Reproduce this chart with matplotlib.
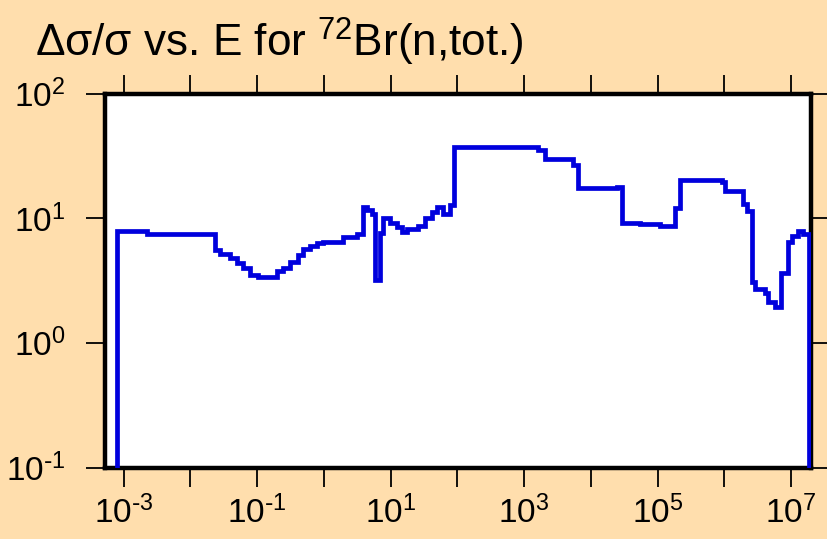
import numpy as np
import matplotlib
matplotlib.use("Agg")
import matplotlib.pyplot as plt

# Bin edges (energy, eV) and relative uncertainty values (%)
energy_edges = [8.0e-4, 2.21e-3, 0.0231, 0.0275, 0.0388, 0.0494, 0.0608, 0.0774,
                0.102, 0.197, 0.242, 0.308, 0.407, 0.483, 0.615, 0.783, 0.964,
                1.92, 3.11, 3.83, 4.40, 5.22, 5.79, 6.89, 7.64, 9.73, 12.4, 14.7,
                17.5, 25.6, 32.6, 41.5, 49.3, 60.7, 77.3, 88.0, 1610, 2050, 5400,
                6410, 24600, 29200, 5.45e4, 1.09e5, 1.82e5, 2.17e5, 9.24e5,
                1.02e6, 1.91e6, 2.19e6, 2.60e6, 2.88e6, 4.07e6, 4.52e6, 5.75e6,
                7.08e6, 9.02e6, 1.035e7, 1.27e7, 1.51e7, 1.86e7]
rel_unc = [7.82, 7.40, 5.51, 5.12, 4.75, 4.33, 3.95, 3.47, 3.35, 3.74, 4.02,
           4.41, 5.02, 5.71, 5.93, 6.27, 6.38, 7.00, 7.40, 12.4, 11.7, 10.9,
           3.22, 7.54, 9.95, 9.07, 8.42, 7.68, 8.12, 8.58, 9.95, 11.3, 12.2,
           10.9, 12.8, 36.9, 34.9, 30.1, 26.5, 17.3, 17.9, 9.1, 8.9, 8.7,
           11.96, 20.1, 19.5, 16.5, 13.1, 11.5, 3.05, 2.68, 2.49, 2.11, 1.93,
           3.6, 6.38, 7.25, 7.82, 7.40]

x_tick_exps = list(range(-3, 8))
x_label_exps = [-3, -1, 1, 3, 5, 7]
y_tick_exps = [-1, 0, 1, 2]
title_text = "Δσ/σ vs. E for $\\mathregular{^{72}}$Br(n,tot.)"

plt.rcParams['font.family'] = ['Liberation Sans', 'DejaVu Sans']


def pow_label(e):
    s = str(e).replace('-', '\\text{-}')
    return "$\\mathregular{10^{%s}}$" % s


bg = '#FFDEAD'
W, H = 827, 539
fig = plt.figure(figsize=(W / 100, H / 100), dpi=100, facecolor=bg)
L, R, T, B = 104.5, 810.5, 93.5, 467.5
ax = fig.add_axes([L / W, 1 - B / H, (R - L) / W, (B - T) / H])
ax.set_facecolor('white')

ax.stairs(rel_unc, energy_edges, baseline=1e-3, color='#0000DD',
          linewidth=3.4, zorder=3)

ax.set_xscale('log')
ax.set_yscale('log')
ax.set_xlim(10 ** -3.285, 10 ** 7.292)
ax.set_ylim(0.1, 100)

xt = [10.0 ** e for e in x_tick_exps]
ax.set_xticks(xt)
ax.set_xticklabels([pow_label(e) if e in x_label_exps else ""
                    for e in x_tick_exps])
yt = [10.0 ** e for e in y_tick_exps]
ax.set_yticks(yt)
ax.set_yticklabels([pow_label(e) for e in y_tick_exps])
ax.minorticks_off()

ax.tick_params(axis='both', which='major', direction='out', length=14,
               width=1.3, color='black', labelsize=24, top=True, right=True,
               labeltop=False, labelright=False)
ax.tick_params(axis='x', pad=6)
ax.tick_params(axis='y', pad=14)

for s in ax.spines.values():
    s.set_linewidth(3.2)
    s.set_color('black')

fig.text(35 / W, 1 - 57 / H, title_text, fontsize=31.8, ha='left',
         va='baseline')

fig.savefig('out.png', dpi=100, facecolor=bg)
